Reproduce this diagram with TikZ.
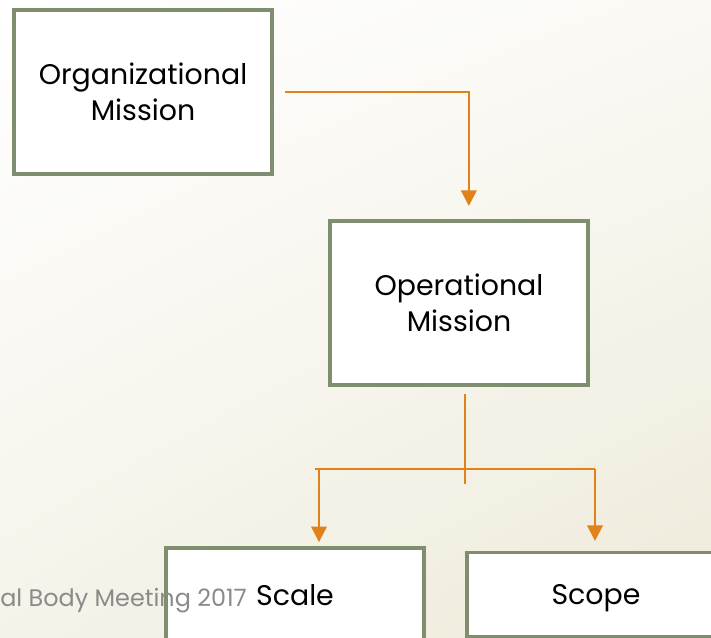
\documentclass[tikz,border=0pt]{standalone}
\usepackage{fontspec}
\setmainfont{Poppins}
\usetikzlibrary{arrows.meta,shadings}
\definecolor{boxline}{RGB}{127,142,111}
\definecolor{linkline}{RGB}{224,129,25}
\definecolor{footgray}{RGB}{138,138,138}
\definecolor{paperUL}{RGB}{255,255,255}
\definecolor{paperUR}{RGB}{250,249,244}
\definecolor{paperLL}{RGB}{245,243,233}
\definecolor{paperLR}{RGB}{238,234,218}
\tikzset{
	missionbox/.style={draw=boxline, line width=2.4pt, fill=white, minimum width=6.45cm, align=center, font=\fontsize{20.2}{26}\selectfont},
	stem/.style={draw=linkline, line width=1.5pt},
	link/.style={stem, -{Triangle[width=11pt,length=11pt]}},
	footer/.style={text=footgray, font=\fontsize{17}{20}\selectfont, inner sep=0pt},
}

\begin{document}
\begin{tikzpicture}[x=0.025cm, y=-0.025cm]
	%%%%% START %%%%%
	
	\useasboundingbox (0,0) rectangle (711,638);
	\clip (0,0) rectangle (711,638);
	\shade[upper left=paperUL, upper right=paperUR, lower left=paperLL, lower right=paperLR] (0,0) rectangle (711,638);
	
	\node[missionbox, minimum height=4.1cm] (org) at (143,92) {Organizational\\Mission};
	\node[missionbox, minimum height=4.1cm] (op) at (459,303) {Operational\\Mission};
	\node[missionbox, minimum height=2.35cm] (scale) at (295,595) {Scale};
	\node[missionbox, minimum height=2.1cm, text depth=0pt] (scope) at (596,594.5) {Scope};
	
	\node[footer, anchor=base west] (foot) at (0,606) {al Body Meeting 2017};
	
	\coordinate (fork) at (465,469);
	\coordinate (scalein) at (319,469);
	\coordinate (scopein) at (595,469);
	
	\draw[link] ([xshift=8pt]org.east) -| ([xshift=7pt,yshift=9.5pt]op.north);
	\draw[stem] ([yshift=-5pt]op.south -| fork) -- ([yshift=-11pt]fork);
	\draw[stem] ([xshift=-3pt]scalein) -- (scopein);
	\draw[link] (scalein) -- ([yshift=3pt]scalein |- scale.north);
	\draw[link] (scopein) -- ([yshift=7pt]scopein |- scope.north);
	
	%%%%% END %%%%%
\end{tikzpicture}
\end{document}
